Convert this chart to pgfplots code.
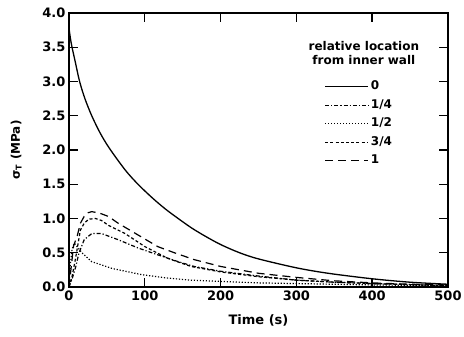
\documentclass[border=0pt]{standalone}
\usepackage{pgfplots}
\pgfplotsset{compat=1.18}
\usepackage{fontspec}
\setmainfont{DejaVu Sans}
\begin{document}
\begin{tikzpicture}
\begin{axis}[
  at={(0pt,0pt)}, anchor=south west,
  scale only axis, width=379pt, height=274pt,
  xmin=0, xmax=500, ymin=0, ymax=4,
  xtick={0,100,...,500}, ytick={0,0.5,...,4},
  tick align=inside, major tick length=9pt,
  xtick pos=both, ytick pos=both,
  axis line style={line width=1.4pt}, tick style={line width=1.4pt, black},
  /pgf/number format/assume math mode=true,
  ticklabel style={font=\bfseries\fontsize{13}{15}\selectfont},
  yticklabel style={/pgf/number format/.cd, fixed, fixed zerofill, precision=1},
  xticklabel style={/pgf/number format/.cd, fixed, precision=0},
  xlabel={\bfseries Time (s)},
  ylabel={\bfseries σ\textsubscript{T} (MPa)},
  xlabel style={font=\fontsize{13}{15}\selectfont, yshift=-7pt},
  ylabel style={font=\fontsize{12}{14}\selectfont, yshift=14pt},
  legend cell align=left,
  legend image code/.code={\draw[#1] (0pt,0pt) -- (43pt,0pt);},
  legend style={at={(axis cs:333,3.07)}, anchor=north west, draw=none, fill=none,
    font=\bfseries\fontsize{12}{13}\selectfont, row sep=3pt,
    nodes={inner sep=2pt, text height=9pt, text depth=2.5pt}},
]
\addplot[black, line width=1.3pt, smooth] coordinates {
(0,3.78) (2,3.62) (4,3.5) (8,3.3) (14,3.0) (21,2.75) (30,2.5) (41,2.25) (53,2.03)
(74,1.71) (91,1.5) (110,1.3) (127,1.14) (144,1.0) (162,0.86) (180,0.74) (200,0.62) (225,0.5) (250,0.41)
(300,0.28) (342,0.2) (400,0.12) (450,0.07) (500,0.04)};
\addlegendentry{0}
\addplot[black, line width=1.2pt, dash pattern=on 4pt off 2pt on 1.2pt off 2pt] coordinates {
(0,0) (5,0.15) (9,0.3) (13,0.49) (20,0.69) (30,0.78) (43,0.78) (65,0.69) (91,0.57)
(117,0.47) (144,0.37) (165,0.3) (200,0.23) (250,0.16) (300,0.1) (350,0.07)
(400,0.05) (500,0.02)};
\addlegendentry{1/4}
\addplot[black, line width=1.2pt, dash pattern=on 1.2pt off 1.8pt] coordinates {
(0,0) (2,0.35) (4,0.55) (7,0.64) (10,0.6) (17,0.5) (30,0.37) (57,0.27) (96,0.18)
(130,0.13) (161,0.1) (204,0.08) (250,0.06) (300,0.05) (400,0.03) (500,0.02)};
\addlegendentry{1/2}
\addplot[black, line width=1.2pt, dash pattern=on 3pt off 2.2pt] coordinates {
(0,0) (4,0.15) (9,0.44) (15,0.83) (20,0.93) (26,0.99) (35,1.0) (43,0.97) (52,0.9)
(74,0.78) (100,0.59) (130,0.42) (161,0.3) (200,0.22) (250,0.15) (300,0.1)
(350,0.07) (400,0.05) (500,0.02)};
\addlegendentry{3/4}
\addplot[black, line width=1.2pt, dash pattern=on 8pt off 5pt] coordinates {
(0,0) (3,0.3) (6,0.6) (11,0.75) (15,0.93) (20,1.03) (24,1.08) (30,1.1) (40,1.08)
(52,1.03) (65,0.93) (91,0.76) (117,0.59) (139,0.5) (165,0.4) (200,0.3) (250,0.2)
(300,0.14) (350,0.09) (400,0.06) (450,0.04) (500,0.03)};
\addlegendentry{1}
\node[font=\bfseries\fontsize{12}{14}\selectfont, align=center] at (axis cs:389,3.41)
  {relative location\\from inner wall};
\end{axis}
\pgfresetboundingbox
\path (-69pt,-50pt) rectangle (395pt,287pt);
\end{tikzpicture}
\end{document}
